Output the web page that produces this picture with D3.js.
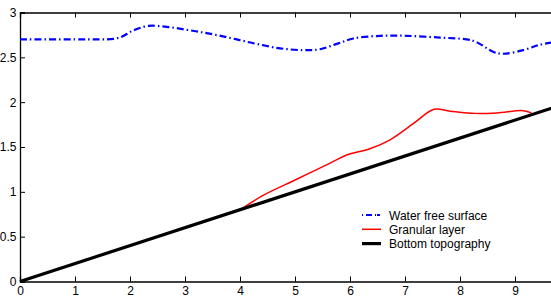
<!DOCTYPE html>
<html>
<head>
<meta charset="utf-8">
<script src="https://cdn.jsdelivr.net/npm/d3@7"></script>
<style>
body{margin:0;background:#fff;}
svg{display:block;font-family:"Liberation Sans",Arial,Helvetica,sans-serif;}
</style>
</head>
<body>
<div class="container"></div>
<script>
// data
var surfaceX=[0,1.0,1.45,1.7,1.85,2.06,2.33,2.67,3.0,3.3,3.6,3.94,4.30,4.73,5.15,5.45,5.76,6.06,6.55,7.03,7.64,8.12,8.30,8.61,8.79,9.15,9.45,9.7];
var surfaceY=[2.70,2.70,2.70,2.705,2.73,2.80,2.85,2.84,2.81,2.78,2.745,2.70,2.65,2.60,2.58,2.59,2.65,2.71,2.74,2.74,2.72,2.70,2.67,2.56,2.54,2.58,2.64,2.67];
var granularX=[4.0,4.42,5.03,5.64,5.94,6.36,6.73,7.15,7.53,7.82,8.27,8.67,9.15,9.30];
var granularY=[0.80,0.96,1.14,1.32,1.41,1.48,1.58,1.76,1.92,1.90,1.875,1.88,1.905,1.88];
var bottomX=[0,9.7];
var bottomY=[0,1.94];
var xTicks=[0,1,2,3,4,5,6,7,8,9];
var yTicks=[0,0.5,1,1.5,2,2.5,3];
var legendNames=["Water free surface","Granular layer","Bottom topography"];

var width=551,height=301;
var svg=d3.select(".container").append("svg").attr("width",width).attr("height",height);

var x=d3.scaleLinear().domain([0,10]).range([20,570]);
var y=d3.scaleLinear().domain([0,3]).range([281.5,12.5]);

function zip(xs,ys){
    var out=[];
    for(var i=0;i<xs.length;i++){ out.push([xs[i],ys[i]]); }
    return out;
}

var line=d3.line()
    .x(function(d){ return x(d[0]);})
    .y(function(d){ return y(d[1]);})
    .curve(d3.curveCatmullRom);

// axes (box style, ticks inward)
var xAxis=d3.axisBottom(x).tickValues(xTicks).tickSize(-5).tickPadding(5).tickFormat(d3.format("d"));
var xTop=d3.axisTop(x).tickValues(xTicks).tickSize(-5).tickFormat("");
var yAxis=d3.axisLeft(y).tickValues(yTicks).tickSize(-5).tickPadding(3.5).tickFormat(function(d){ return String(d);});

var gx=svg.append("g").attr("transform","translate(0,"+y(0)+")").call(xAxis);
var gt=svg.append("g").attr("transform","translate(0,"+y(3)+")").call(xTop);
var gy=svg.append("g").attr("transform","translate("+x(0)+",0)").call(yAxis);

svg.selectAll(".domain").attr("stroke","#000").attr("stroke-width",1.3);
svg.selectAll(".tick line").attr("stroke","#000");
svg.selectAll(".tick text").attr("font-size","12px").attr("fill","#000").attr("font-family","'Liberation Sans',Arial,sans-serif");

// series
svg.append("path")
    .attr("fill","none")
    .attr("stroke","#0000ff")
    .attr("stroke-width",2.2)
    .attr("stroke-dasharray","7,3,1.5,3")
    .attr("d",line(zip(surfaceX,surfaceY)));

svg.append("path")
    .attr("fill","none")
    .attr("stroke","#ff0000")
    .attr("stroke-width",1.5)
    .attr("d",line(zip(granularX,granularY)));

svg.append("path")
    .attr("fill","none")
    .attr("stroke","#000")
    .attr("stroke-width",3.2)
    .attr("d",line(zip(bottomX,bottomY)));

// legend
var legend=svg.append("g").attr("transform","translate(362,215)");
var styles=[
    {color:"#0000ff",w:2.2,dash:"1,3,6,3,1"},
    {color:"#ff0000",w:1.5,dash:null},
    {color:"#000",w:3.2,dash:null}
];
legend.selectAll("line")
    .data(styles)
    .enter().append("line")
    .attr("x1",0).attr("x2",19)
    .attr("y1",function(d,i){ return i*14.3;})
    .attr("y2",function(d,i){ return i*14.3;})
    .attr("stroke",function(d){ return d.color;})
    .attr("stroke-width",function(d){ return d.w;})
    .attr("stroke-dasharray",function(d){ return d.dash;});
legend.selectAll("text")
    .data(legendNames)
    .enter().append("text")
    .attr("x",27)
    .attr("y",function(d,i){ return i*14.3+4.5;})
    .attr("font-size","12px")
    .attr("fill","#000")
    .text(function(d){ return d;});
</script>
</body>
</html>
